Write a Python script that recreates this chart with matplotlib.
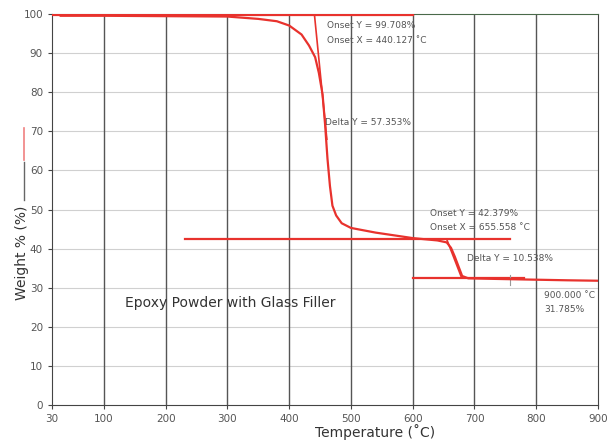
import matplotlib.pyplot as plt
from matplotlib.lines import Line2D

# TGA curve
temperature = [30, 100, 200, 300, 350, 380, 400, 420, 432, 442, 448, 454, 458, 462,
               466, 470, 476, 485, 500, 540, 600, 640, 655, 662, 668, 674, 680, 690,
               750, 850, 900]
weight = [99.6, 99.6, 99.5, 99.4, 98.8, 98.2, 97.1, 94.8, 92.0, 89.0, 85.0, 79.5, 72.0, 63.0,
          56.0, 51.0, 48.5, 46.5, 45.3, 44.1, 42.7, 42.1, 41.6, 40.2, 38.0, 35.5, 33.0, 32.4,
          32.2, 31.9, 31.785]

# analysis lines (onset baselines / tangents)
onset1_base_x = [16, 600]
onset1_base_y = [99.7, 99.7]
onset1_tan_x = [441, 461]
onset1_tan_y = [99.7, 68.0]
onset2_base_x = [231, 757]
onset2_base_y = [42.4, 42.4]
onset2_tan_x = [655, 679]
onset2_tan_y = [42.4, 32.6]
end_base_x = [600, 780]
end_base_y = [32.4, 32.4]

x_ticks = [16, 100, 200, 300, 400, 500, 600, 700, 800, 900]
x_labels = ['30', '100', '200', '300', '400', '500', '600', '700', '800', '900']
y_ticks = list(range(0, 101, 10))

red = '#e8322d'
txt = '#555555'

fig = plt.figure(figsize=(6.07, 4.44), dpi=100)
ax = fig.add_axes([0.0857, 0.088, 0.8995, 0.880])

for t in x_ticks[1:-1]:
    ax.axvline(t, color='#555555', lw=1.0, zorder=1)
for w in y_ticks[1:-1]:
    ax.axhline(w, color='#d0d0d0', lw=0.8, zorder=0)

ax.plot(onset1_base_x, onset1_base_y, color=red, lw=1.6, zorder=3)
ax.plot(onset1_tan_x, onset1_tan_y, color=red, lw=1.2, zorder=3)
ax.plot(onset2_base_x, onset2_base_y, color=red, lw=1.6, zorder=3)
ax.plot(onset2_tan_x, onset2_tan_y, color=red, lw=1.2, zorder=3)
ax.plot(end_base_x, end_base_y, color=red, lw=1.6, zorder=3)
ax.plot([757, 757], [30.8, 33.2], color='#999999', lw=0.8, zorder=3)

ax.plot(temperature, weight, color=red, lw=1.6, zorder=4)

ax.set_xlim(16, 900)
ax.set_ylim(0, 100)
ax.set_xticks(x_ticks)
ax.set_xticklabels(x_labels)
ax.set_yticks(y_ticks)
ax.tick_params(colors='#444444', labelcolor=txt, labelsize=7.5, length=3)
for s in ax.spines.values():
    s.set_color('#444444')
ax.spines['top'].set_color('#4a6a4a')

fs = 6.5
ax.text(461, 97.0, 'Onset Y = 99.708%', fontsize=fs, color=txt, va='center')
ax.text(461, 93.2, 'Onset X = 440.127 ˚C', fontsize=fs, color=txt, va='center')
ax.text(458, 72.3, 'Delta Y = 57.353%', fontsize=fs, color=txt, va='center')
ax.text(628, 49.0, 'Onset Y = 42.379%', fontsize=fs, color=txt, va='center')
ax.text(628, 45.4, 'Onset X = 655.558 ˚C', fontsize=fs, color=txt, va='center')
ax.text(688, 37.4, 'Delta Y = 10.538%', fontsize=fs, color=txt, va='center')
ax.text(813, 28.0, '900.000 ˚C', fontsize=fs, color=txt, va='center')
ax.text(813, 24.4, '31.785%', fontsize=fs, color=txt, va='center')
ax.text(134, 26.0, 'Epoxy Powder with Glass Filler', fontsize=10, color='#333333', va='center')

fig.text(375 / 607, 1 - 432 / 444, 'Temperature (˚C)', fontsize=10, color='#333333',
         ha='center', va='center')
fig.text(22 / 607, 1 - 253 / 444, 'Weight % (%)', fontsize=10, color='#333333',
         rotation=90, ha='center', va='center')
fig.add_artist(Line2D([24 / 607, 24 / 607], [1 - 128 / 444, 1 - 160 / 444],
                      color='#f08080', lw=1.2))
fig.add_artist(Line2D([24 / 607, 24 / 607], [1 - 162 / 444, 1 - 200 / 444],
                      color='#666666', lw=1.0))

fig.savefig('out.png', dpi=100)
